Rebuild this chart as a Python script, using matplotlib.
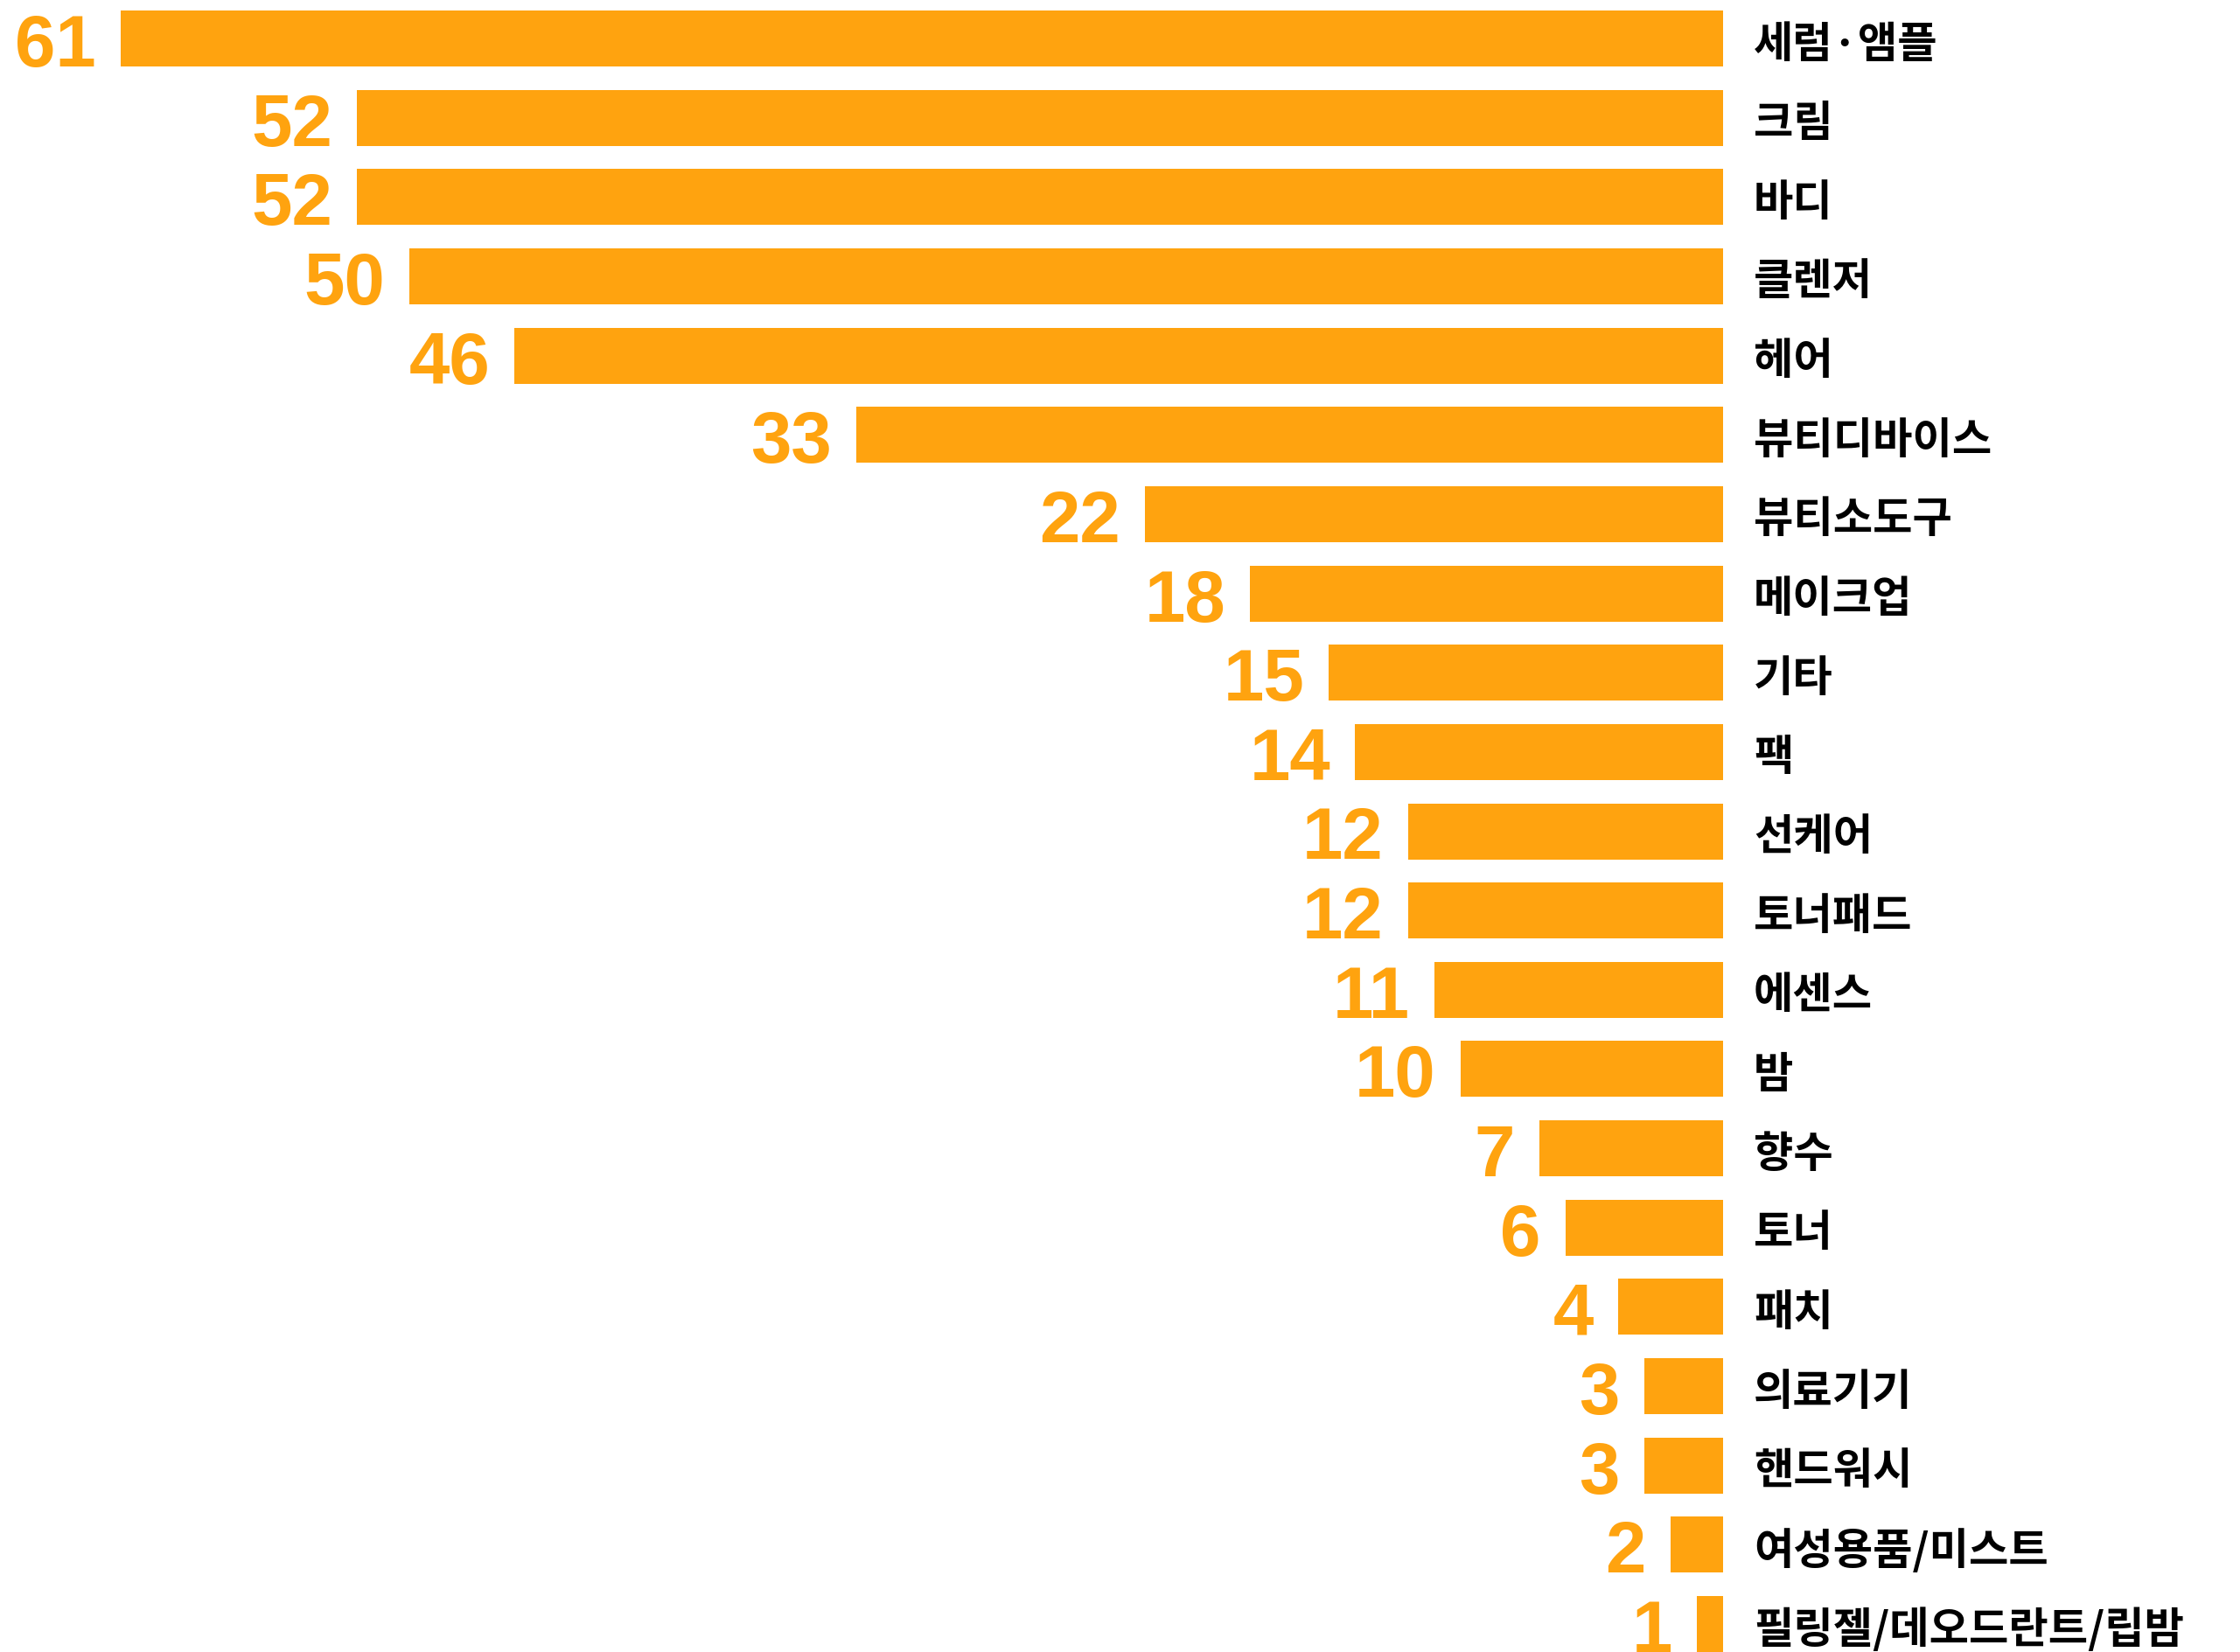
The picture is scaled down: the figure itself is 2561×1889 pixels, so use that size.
import matplotlib
matplotlib.use("Agg")
import matplotlib.pyplot as plt

# category names and counts, top to bottom
categories = [
    "세럼·앰플", "크림", "바디", "클렌저", "헤어", "뷰티디바이스", "뷰티소도구",
    "메이크업", "기타", "팩", "선케어", "토너패드", "에센스", "밤", "향수", "토너",
    "패치", "의료기기", "핸드워시", "여성용품/미스트", "필링젤/데오드란트/립밤",
]
counts = [61, 52, 52, 50, 46, 33, 22, 18, 15, 14, 12, 12, 11, 10, 7, 6, 4, 3, 3, 2, 1]

ORANGE = "#FFA30F"
W, H, DPI = 2561, 1890, 100

fig = plt.figure(figsize=(W / DPI, H / DPI), dpi=DPI)
fig.patch.set_facecolor("white")

# zero of the value axis sits at x=1970 px, 30 px per unit
x0_px = 1970
px_per_unit = 30.04
ax = fig.add_axes([0, 0, x0_px / W, 1])
ax.set_xlim(x0_px / px_per_unit, 0)

pitch = 90.65
top_px = 45
ax.set_ylim((H - top_px) / pitch, -top_px / pitch)

ypos = list(range(len(categories)))
ax.barh(ypos, counts, height=64 / pitch, color=ORANGE, edgecolor="none")

pt = 72 / DPI
for y, v, name in zip(ypos, counts, categories):
    ax.annotate(
        str(v), xy=(v, y), xytext=(-28 * pt, -31 * pt), textcoords="offset points",
        ha="right", va="baseline", color=ORANGE, fontsize=60,
        fontweight="bold", family="Liberation Sans", annotation_clip=False,
    )
    ax.annotate(
        name, xy=(0, y), xytext=(35 * pt, -6 * pt), textcoords="offset points",
        ha="left", va="center", color="black", fontsize=35.5,
        fontweight="bold", family=["Noto Sans CJK KR", "DejaVu Sans"],
        annotation_clip=False,
    )

ax.axis("off")
fig.savefig("out.png", dpi=DPI)
